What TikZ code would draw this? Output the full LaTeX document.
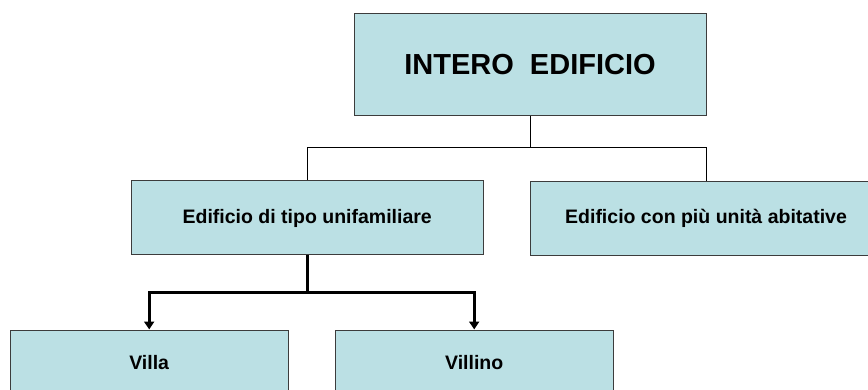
\documentclass[tikz,border=0pt]{standalone}
\usepackage{fontspec}
\setmainfont{Liberation Sans}
\usetikzlibrary{arrows.meta}
\definecolor{boxfill}{RGB}{187,224,228}
\definecolor{boxline}{RGB}{60,60,60}
\tikzset{
  box/.style={draw=boxline, line width=1pt, fill=boxfill, rectangle, inner sep=0pt,
              font=\bfseries\fontsize{19.5}{22}\selectfont},
  thinline/.style={draw=black, line width=1pt},
  thickline/.style={draw=black, line width=2.6pt, -{Triangle[length=8pt,width=10pt]}}
}
\begin{document}
\begin{tikzpicture}[x=1pt,y=-1pt]
\useasboundingbox (0,0) rectangle (868,390);
\begin{scope}
\clip (0,0) rectangle (868,390);
\node[box, minimum width=352pt, minimum height=102pt, font=\bfseries\fontsize{29}{32}\selectfont]
  (top) at (530,64.5) {INTERO\ \ EDIFICIO};
\node[box, minimum width=352pt, minimum height=74pt] (uni) at (307.2,218) {Edificio di tipo unifamiliare};
\node[box, minimum width=352pt, minimum height=74pt] (multi) at (706,218.5) {Edificio con più unità abitative};
\node[box, minimum width=278pt, minimum height=66pt] (villa) at (149.2,363) {Villa};
\node[box, minimum width=278pt, minimum height=66pt] (villino) at (474.2,363) {Villino};
\coordinate (j1) at (530,148);
\coordinate (j2) at (307.2,292.7);
\draw[thinline] (top.south) -- (j1) -| (uni.north);
\draw[thinline] (j1) -| (multi.north);
\draw[thickline, -] (uni.south) -- (j2);
\draw[thickline] (j2) -| (villa.north);
\draw[thickline] (j2) -| (villino.north);
\end{scope}
\end{tikzpicture}
\end{document}
